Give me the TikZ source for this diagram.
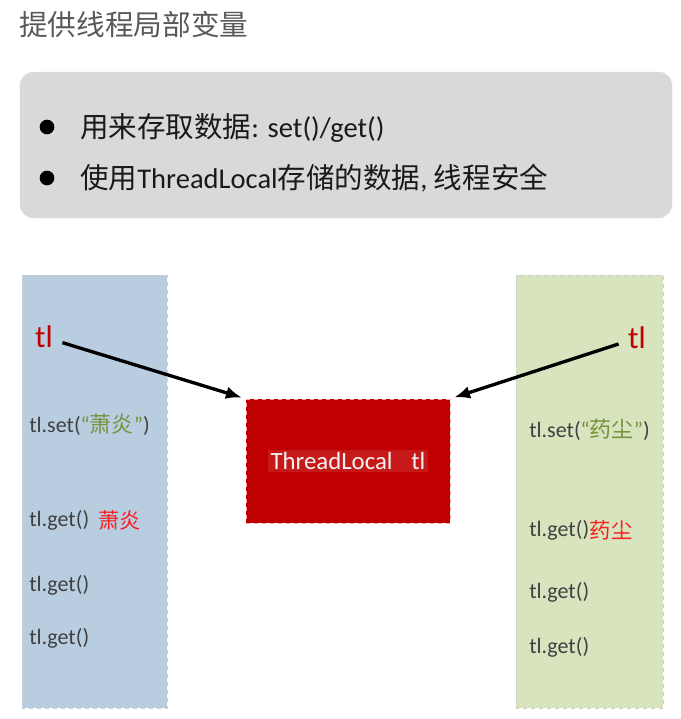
\documentclass[tikz,border=0pt]{standalone}
\usepackage{fontspec}
\setmainfont{Carlito}
\newfontfamily\zhfont{Noto Sans CJK SC}
\newcommand{\zh}[1]{{\zhfont #1}}
\usetikzlibrary{positioning,arrows.meta}

\definecolor{titlegray}{RGB}{89,89,89}
\definecolor{boxgray}{RGB}{217,217,217}
\definecolor{leftblue}{RGB}{185,205,225}
\definecolor{rightgreen}{RGB}{215,228,189}
\definecolor{darkred}{RGB}{192,0,0}
\definecolor{textgray}{RGB}{64,64,64}
\definecolor{olivegreen}{RGB}{118,146,60}
\definecolor{brightred}{RGB}{250,30,30}

\tikzset{
  title/.style={anchor=west, inner sep=0pt, text=titlegray, font=\fontsize{21.5}{24}\selectfont},
  summarybox/.style={fill=boxgray, draw=white!88!black, dashed, rounded corners=10pt},
  dot/.style={circle, fill=black, inner sep=0pt, minimum size=11pt},
  bullettext/.style={anchor=west, inner sep=0pt, text=black!90, font=\fontsize{21.4}{24}\selectfont},
  panel/.style={draw=white!80!black, dashed, line width=0.4pt},
  tlmark/.style={inner sep=7pt, text=darkred, font=\fontsize{23.5}{26}\selectfont},
  redbox/.style={fill=darkred, draw=red!35!white, dashed, minimum width=153pt, minimum height=93pt},
  boxtext/.style={fill=white, fill opacity=0.1, text opacity=1, text=white!95!black, inner sep=2pt, font=\fontsize{18.6}{21}\selectfont},
  call/.style={anchor=west, inner sep=0pt, text=textgray, font=\fontsize{16.5}{19}\selectfont},
  value/.style={inner sep=0pt, text=brightred, font=\fontsize{16}{19}\selectfont},
  pointer/.style={-{Latex[length=12pt,width=9.5pt]}, line width=2.5pt, shorten >=3pt}
}

\begin{document}
\begin{tikzpicture}[x=0.75pt,y=-0.75pt]
\useasboundingbox (0,0) rectangle (681,719);

%% heading
\node[title] (title) at (19,24) {\zh{提供线程局部变量}};

%% grey box with the two points
\draw[summarybox] (20,72) rectangle (672,218);
\node[dot] (dotA) at (47,127) {};
\node[dot] (dotB) at (47,178) {};
\node[bullettext] (lineA) at (80,128) {\zh{用来存取数据}: set()/get()};
\node[bullettext] (lineB) at (80,178) {\zh{使用}ThreadLocal\zh{存储的数据}, \zh{线程安全}};

%% the two threads
\draw[panel, fill=leftblue] (22,275) rectangle (167,708);
\draw[panel, fill=rightgreen] (516,275) rectangle (663,708);

\node[tlmark] (tlleft) at (44,337) {tl};
\node[tlmark] (tlright) at (637,338) {tl};

%% the shared ThreadLocal
\node[redbox] (thread) at (348,461) {};
\node[boxtext] (threadtext) at (thread.center) {ThreadLocal\hspace{14pt}tl};

\draw[pointer] (tlleft) -- (thread.north west);
\draw[pointer] (tlright) -- (thread.north east);

%% calls in the left thread
\node[call] (setleft) at (29,425) {tl.set(\textcolor{olivegreen}{“\zh{萧炎}”})};
\node[call] (getleftA) at (29,520) {tl.get()};
\node[value, right=6.5pt of getleftA] (valleft) {\zh{萧炎}};
\node[call] (getleftB) at (29,585) {tl.get()};
\node[call] (getleftC) at (29,638) {tl.get()};

%% calls in the right thread
\node[call] (setright) at (529,430) {tl.set(\textcolor{olivegreen}{“\zh{药尘}”})};
\node[call] (getrightA) at (529,530) {tl.get()};
\node[value, right=0pt of getrightA] (valright) {\zh{药尘}};
\node[call] (getrightB) at (529,592) {tl.get()};
\node[call] (getrightC) at (529,647) {tl.get()};

\end{tikzpicture}
\end{document}
